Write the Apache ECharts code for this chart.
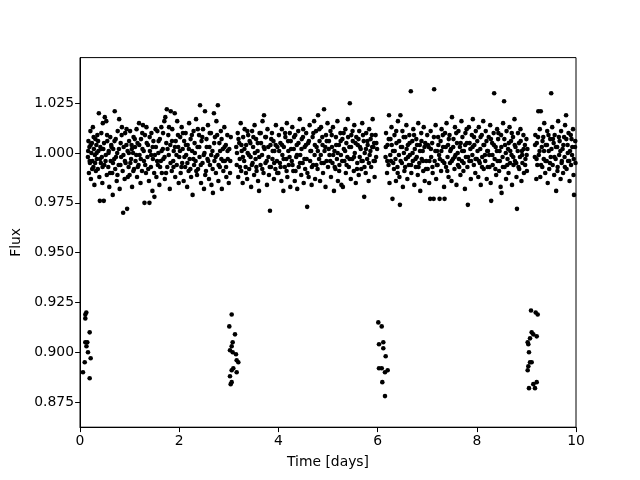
<!DOCTYPE html>
<html><head><meta charset="utf-8">
<script src="https://cdn.jsdelivr.net/npm/echarts@6/dist/echarts.min.js"></script>
<style>html,body{margin:0;padding:0;background:#fff}#c{width:640px;height:480px}</style>
</head><body><div id="c"></div>
<script>
const xTicks = [0, 2, 4, 6, 8, 10];
const yTicks = [0.875, 0.900, 0.925, 0.950, 0.975, 1.000, 1.025];
const xLabel = 'Time [days]';
const yLabel = 'Flux';

const transit1 = [[0.127,0.920],[0.107,0.919],[0.107,0.917],[0.195,0.910],[0.107,0.905],[0.147,0.905],[0.161,0.900],[0.215,0.897],[0.095,0.895],[0.060,0.890],[0.195,0.887],[0.130,0.903]];
const transit2 = [[3.058,0.919],[3.010,0.913],[3.125,0.909],[3.078,0.905],[3.058,0.903],[3.024,0.901],[3.078,0.900],[3.145,0.899],[3.159,0.896],[3.192,0.895],[3.091,0.892],[3.058,0.891],[3.159,0.890],[3.024,0.888],[3.058,0.885],[3.038,0.884]];
const transit3 = [[6.014,0.915],[6.083,0.913],[6.028,0.904],[6.115,0.905],[6.115,0.902],[6.163,0.898],[6.028,0.892],[6.083,0.892],[6.149,0.890],[6.203,0.891],[6.095,0.885],[6.149,0.878]];
const transit4 = [[9.093,0.921],[9.187,0.920],[9.228,0.919],[9.106,0.910],[9.139,0.909],[9.073,0.907],[9.208,0.908],[9.026,0.905],[9.039,0.904],[9.052,0.900],[9.073,0.895],[9.106,0.895],[9.039,0.893],[9.026,0.891],[9.052,0.882],[9.139,0.884],[9.208,0.885],[9.173,0.882]];

const band0 = [[0.16,0.998],[0.17,1.006],[0.18,0.990],[0.19,1.003],[0.20,0.995],[0.21,1.011],[0.22,0.987],[0.23,1.000],[0.24,1.005],[0.25,0.996],[0.26,1.013],[0.27,0.993],[0.28,1.002],[0.29,0.984],[0.30,0.999],[0.31,1.007],[0.32,0.991],[0.33,1.004],[0.34,0.997],[0.35,1.009],[0.36,0.992],[0.37,1.001],[0.38,1.020],[0.39,0.988],[0.40,0.976],[0.41,1.003],[0.42,0.995],[0.43,1.010],[0.44,0.998],[0.45,0.985],[0.46,1.015],[0.47,1.002],[0.48,0.976],[0.49,0.994],[0.50,1.018],[0.52,0.999],[0.53,1.016],[0.54,0.989],[0.55,1.006],[0.57,0.993],[0.58,1.001],[0.59,0.983],[0.61,1.008],[0.62,0.996],[0.63,1.004],[0.65,0.990],[0.66,0.979],[0.67,1.002],[0.69,0.997],[0.70,1.021],[0.71,0.992],[0.72,1.007],[0.74,0.986],[0.75,1.000],[0.76,1.011],[0.78,0.994],[0.79,1.017],[0.80,0.982],[0.82,1.005],[0.83,0.998],[0.84,1.009],[0.86,0.991],[0.87,0.970],[0.88,1.003],[0.90,0.987],[0.91,1.010],[0.92,0.995],[0.94,1.012],[0.95,0.972],[0.96,1.001],[0.98,0.993],[0.99,1.006]];
const band1 = [[1.00,0.989],[1.01,1.011],[1.03,0.997],[1.04,1.004],[1.05,0.983],[1.07,1.000],[1.08,1.008],[1.09,0.992],[1.11,1.003],[1.12,0.996],[1.14,1.012],[1.15,0.988],[1.16,1.005],[1.18,0.994],[1.19,1.015],[1.20,0.999],[1.22,0.985],[1.23,1.007],[1.25,0.991],[1.26,1.002],[1.27,1.014],[1.29,0.996],[1.30,0.975],[1.31,1.009],[1.33,0.990],[1.34,1.013],[1.36,0.998],[1.37,1.004],[1.39,0.986],[1.40,0.975],[1.41,1.001],[1.43,0.993],[1.44,1.010],[1.46,0.981],[1.47,0.997],[1.48,1.006],[1.50,0.978],[1.51,0.999],[1.53,1.003],[1.54,0.988],[1.56,1.011],[1.57,0.994],[1.58,1.000],[1.60,0.984],[1.61,1.007],[1.63,0.996],[1.64,1.013],[1.65,0.990],[1.67,1.002],[1.68,0.997],[1.70,1.016],[1.71,0.987],[1.72,1.018],[1.74,1.005],[1.75,1.022],[1.76,0.993],[1.78,1.009],[1.79,0.999],[1.81,0.982],[1.82,1.004],[1.83,1.021],[1.85,0.991],[1.86,1.012],[1.88,0.996],[1.89,1.001],[1.91,1.020],[1.92,0.988],[1.93,1.006],[1.95,0.994],[1.96,1.016],[1.98,1.003],[1.99,0.985]];
const band2 = [[2.00,0.998],[2.02,1.008],[2.03,0.990],[2.05,1.013],[2.06,0.995],[2.07,1.002],[2.09,0.986],[2.10,1.006],[2.12,0.993],[2.13,1.010],[2.14,0.999],[2.16,0.983],[2.17,1.004],[2.19,0.991],[2.20,1.015],[2.21,0.997],[2.23,1.007],[2.24,0.988],[2.26,1.001],[2.27,0.979],[2.29,1.011],[2.30,0.994],[2.31,1.005],[2.33,0.996],[2.34,1.017],[2.36,0.989],[2.37,1.003],[2.38,0.992],[2.40,1.009],[2.41,0.998],[2.42,1.024],[2.44,0.985],[2.45,1.006],[2.47,0.995],[2.48,1.012],[2.50,0.982],[2.51,1.000],[2.52,1.021],[2.54,0.991],[2.55,1.007],[2.57,0.997],[2.58,1.014],[2.60,0.987],[2.61,1.003],[2.62,0.994],[2.64,1.010],[2.65,0.984],[2.67,1.001],[2.68,0.980],[2.70,1.020],[2.71,0.996],[2.72,1.008],[2.74,0.990],[2.75,1.016],[2.77,0.999],[2.78,1.024],[2.79,0.986],[2.81,1.005],[2.82,0.993],[2.84,1.011],[2.85,0.997],[2.86,0.982],[2.88,1.002],[2.89,0.991],[2.91,1.013],[2.92,0.996],[2.94,1.004],[2.95,0.988],[2.97,1.009],[2.98,0.997],[3.00,0.985],[3.01,1.002],[3.03,0.996],[3.04,1.008]];
const band3 = [[3.15,1.003],[3.16,0.994],[3.18,1.010],[3.19,0.988],[3.21,1.005],[3.22,0.997],[3.24,1.015],[3.25,0.991],[3.26,1.001],[3.28,0.985],[3.29,1.008],[3.31,0.996],[3.32,1.012],[3.34,0.993],[3.35,1.004],[3.37,0.987],[3.38,1.000],[3.39,1.009],[3.41,0.992],[3.42,1.006],[3.44,0.998],[3.45,0.983],[3.47,1.011],[3.48,0.995],[3.49,1.003],[3.51,0.989],[3.52,1.014],[3.54,0.997],[3.55,1.007],[3.56,0.991],[3.58,1.001],[3.59,0.986],[3.61,0.981],[3.62,1.010],[3.64,0.994],[3.65,1.005],[3.67,0.999],[3.68,1.016],[3.70,0.990],[3.71,1.019],[3.72,1.002],[3.74,0.995],[3.75,1.008],[3.77,0.984],[3.78,1.012],[3.80,0.998],[3.81,0.989],[3.83,0.971],[3.84,1.004],[3.85,0.993],[3.87,1.010],[3.88,0.997],[3.90,1.006],[3.91,0.987],[3.92,1.001],[3.94,0.992],[3.95,1.014],[3.97,0.996],[3.98,1.003]];
const band4 = [[4.00,0.990],[4.01,1.009],[4.03,0.995],[4.04,1.005],[4.06,0.986],[4.07,1.012],[4.08,0.999],[4.10,0.981],[4.11,1.003],[4.13,0.993],[4.14,1.008],[4.16,0.997],[4.17,1.015],[4.18,0.988],[4.20,1.001],[4.21,0.994],[4.23,1.010],[4.24,0.983],[4.25,1.006],[4.27,0.996],[4.28,1.013],[4.30,0.991],[4.31,1.002],[4.33,0.986],[4.34,1.009],[4.36,0.998],[4.37,1.004],[4.38,0.982],[4.40,1.011],[4.41,0.993],[4.43,1.017],[4.44,0.999],[4.46,0.989],[4.47,1.007],[4.49,0.995],[4.50,1.012],[4.51,0.985],[4.53,1.003],[4.54,0.992],[4.56,1.010],[4.57,0.997],[4.58,0.973],[4.60,1.005],[4.61,0.988],[4.63,1.014],[4.64,0.996],[4.66,1.001],[4.67,0.984],[4.69,1.008],[4.70,0.994],[4.72,1.016],[4.73,0.999],[4.74,0.987],[4.76,1.011],[4.77,1.003],[4.79,0.992],[4.80,1.019],[4.82,0.997],[4.83,1.006],[4.84,0.986],[4.86,1.013],[4.87,0.995],[4.89,1.004],[4.90,0.990],[4.92,1.022],[4.93,1.001],[4.95,0.983],[4.96,1.009],[4.97,0.996],[4.99,1.015]];
const band5 = [[5.00,0.993],[5.02,1.006],[5.03,0.999],[5.05,1.011],[5.06,0.988],[5.08,1.003],[5.09,0.995],[5.10,1.013],[5.12,0.981],[5.13,1.001],[5.15,0.992],[5.16,1.008],[5.18,0.997],[5.19,1.016],[5.20,0.986],[5.22,1.004],[5.23,0.994],[5.25,1.010],[5.26,0.999],[5.27,0.984],[5.29,1.007],[5.30,0.983],[5.32,1.002],[5.33,0.996],[5.35,1.012],[5.36,0.990],[5.37,1.005],[5.39,0.998],[5.40,1.017],[5.42,0.993],[5.43,1.003],[5.44,1.025],[5.46,0.987],[5.47,1.009],[5.49,0.997],[5.50,1.006],[5.52,0.991],[5.53,1.014],[5.54,1.000],[5.56,0.985],[5.57,1.008],[5.59,0.995],[5.60,1.004],[5.62,0.989],[5.63,1.011],[5.64,0.998],[5.66,1.002],[5.67,0.992],[5.69,1.015],[5.70,0.996],[5.72,1.006],[5.73,0.978],[5.74,1.000],[5.76,0.990],[5.77,1.010],[5.79,0.997],[5.80,1.004],[5.82,0.986],[5.83,1.012],[5.84,0.999],[5.86,1.007],[5.87,0.993],[5.89,1.003],[5.90,1.017],[5.92,0.996],[5.93,1.005],[5.94,0.988],[5.96,1.009],[5.97,0.998],[5.99,1.002]];
const band6 = [[6.16,0.998],[6.17,1.010],[6.19,0.990],[6.20,1.004],[6.22,0.994],[6.23,1.019],[6.24,0.985],[6.26,1.007],[6.27,0.996],[6.28,1.013],[6.30,0.977],[6.31,1.001],[6.33,0.992],[6.34,1.009],[6.36,0.997],[6.37,0.986],[6.38,1.005],[6.40,0.993],[6.41,1.016],[6.43,0.999],[6.44,0.988],[6.45,0.974],[6.46,1.019],[6.47,1.003],[6.49,0.995],[6.50,1.011],[6.51,0.983],[6.53,1.000],[6.54,0.991],[6.56,1.008],[6.57,0.997],[6.58,1.014],[6.60,0.987],[6.61,1.004],[6.63,0.994],[6.64,1.009],[6.65,0.999],[6.67,1.031],[6.68,0.990],[6.70,1.006],[6.71,0.996],[6.72,1.012],[6.74,0.984],[6.75,1.002],[6.77,0.993],[6.78,1.007],[6.79,0.998],[6.81,0.989],[6.82,1.015],[6.84,0.995],[6.85,1.004],[6.86,0.981],[6.88,1.010],[6.89,0.997],[6.91,1.001],[6.92,0.991],[6.93,1.013],[6.95,0.986],[6.96,1.005],[6.98,0.996]];
const band7 = [[7.00,1.009],[7.01,0.992],[7.03,1.003],[7.04,0.985],[7.06,0.977],[7.07,1.011],[7.08,0.998],[7.10,1.005],[7.11,0.990],[7.13,0.977],[7.14,1.032],[7.15,0.996],[7.17,1.014],[7.18,0.987],[7.20,1.001],[7.21,0.994],[7.22,1.008],[7.24,0.999],[7.25,0.977],[7.27,1.006],[7.28,0.991],[7.29,1.012],[7.31,0.996],[7.32,1.003],[7.34,0.983],[7.35,0.977],[7.36,1.010],[7.38,0.993],[7.39,1.015],[7.41,0.998],[7.42,1.004],[7.43,0.988],[7.45,1.009],[7.46,0.995],[7.48,1.002],[7.49,0.986],[7.50,1.018],[7.52,0.997],[7.53,1.007],[7.55,0.992],[7.56,1.013],[7.57,0.999],[7.59,0.984],[7.60,1.005],[7.62,0.994],[7.63,1.011],[7.64,0.997],[7.66,1.003],[7.67,0.989],[7.69,1.016],[7.70,0.996],[7.71,1.008],[7.73,0.991],[7.74,1.001],[7.76,0.982],[7.77,1.010],[7.78,0.998],[7.80,1.005],[7.81,0.993],[7.82,0.974],[7.84,1.013],[7.85,0.996],[7.87,1.002],[7.88,0.987],[7.90,1.009],[7.91,0.999],[7.92,1.017],[7.94,0.994],[7.95,1.004],[7.97,0.990],[7.98,1.011]];
const band8 = [[8.00,0.997],[8.01,1.006],[8.03,0.988],[8.04,1.013],[8.06,0.995],[8.07,1.002],[8.08,0.984],[8.10,1.009],[8.11,0.998],[8.13,1.016],[8.14,0.992],[8.15,1.004],[8.17,0.996],[8.18,1.011],[8.20,0.987],[8.21,1.001],[8.22,0.993],[8.24,1.008],[8.25,0.999],[8.27,1.014],[8.28,0.985],[8.29,0.976],[8.31,1.005],[8.32,0.994],[8.34,1.010],[8.35,1.030],[8.36,0.997],[8.38,1.003],[8.39,0.989],[8.41,1.012],[8.42,0.996],[8.43,1.007],[8.45,0.991],[8.46,1.001],[8.48,0.983],[8.49,1.009],[8.50,0.980],[8.52,0.998],[8.53,1.015],[8.55,1.026],[8.56,0.993],[8.57,1.004],[8.59,0.987],[8.60,1.011],[8.62,0.997],[8.63,1.002],[8.64,0.990],[8.66,1.013],[8.67,0.995],[8.69,1.006],[8.70,0.999],[8.71,0.984],[8.73,1.008],[8.74,0.994],[8.76,1.017],[8.77,0.996],[8.78,1.003],[8.80,0.988],[8.81,0.972],[8.83,1.010],[8.84,0.993],[8.85,1.005],[8.87,0.998],[8.88,1.012],[8.90,0.986],[8.91,1.001],[8.92,0.995],[8.94,1.009],[8.95,0.990],[8.97,1.004],[8.98,0.997],[9.00,1.007],[9.01,0.991],[9.02,1.002]];
const band9 = [[9.17,0.998],[9.18,1.009],[9.20,0.987],[9.21,1.005],[9.22,0.994],[9.24,1.021],[9.25,0.999],[9.27,1.012],[9.28,0.988],[9.29,1.021],[9.31,1.003],[9.32,0.993],[9.34,1.008],[9.35,0.997],[9.36,1.015],[9.38,0.990],[9.39,1.004],[9.41,0.996],[9.42,1.011],[9.43,0.985],[9.45,1.001],[9.46,0.992],[9.48,1.007],[9.49,0.998],[9.50,1.030],[9.52,1.013],[9.53,0.994],[9.55,1.005],[9.56,0.989],[9.57,1.009],[9.59,0.997],[9.60,0.981],[9.62,1.003],[9.63,0.993],[9.64,1.016],[9.66,0.999],[9.67,1.006],[9.69,0.987],[9.70,1.011],[9.71,0.995],[9.73,1.002],[9.74,0.990],[9.76,1.008],[9.77,0.998],[9.78,1.014],[9.80,1.019],[9.81,0.992],[9.83,1.004],[9.84,0.996],[9.85,1.010],[9.87,0.986],[9.88,1.001],[9.90,0.994],[9.91,1.007],[9.92,0.999],[9.94,1.012],[9.95,0.989],[9.96,0.979],[9.98,1.003],[9.99,0.995]];

const extra0 = [[0.165,1.001],[0.195,0.996],[0.215,1.004],[0.245,0.992],[0.275,1.008],[0.305,0.995],[0.335,1.000],[0.365,1.006],[0.405,0.997],[0.425,1.002],[0.455,0.993],[0.485,1.005],[0.515,0.996],[0.545,1.009],[0.575,1.000],[0.605,0.990],[0.635,1.003],[0.665,0.995],[0.695,1.006],[0.725,0.998],[0.755,0.989],[0.785,1.002],[0.815,0.994],[0.845,1.013],[0.875,0.999],[0.905,0.996],[0.935,1.004],[0.965,0.988],[0.985,1.000]];
const extra1 = [[1.015,0.995],[1.045,1.002],[1.075,0.991],[1.105,1.007],[1.135,0.999],[1.165,0.993],[1.195,1.004],[1.225,0.997],[1.255,1.010],[1.285,1.001],[1.315,0.994],[1.345,1.005],[1.375,0.992],[1.405,1.008],[1.435,0.999],[1.465,1.003],[1.495,0.990],[1.525,1.012],[1.555,0.996],[1.585,1.006],[1.615,0.993],[1.645,1.001],[1.675,1.010],[1.705,0.998],[1.735,0.990],[1.765,1.002],[1.795,1.013],[1.825,0.995],[1.855,1.006],[1.885,0.993],[1.915,1.003],[1.945,0.999],[1.975,1.009]];
const extra2 = [[2.015,1.001],[2.045,0.993],[2.075,1.010],[2.105,0.998],[2.135,1.004],[2.165,0.995],[2.195,1.002],[2.225,0.992],[2.255,1.009],[2.285,0.997],[2.315,1.000],[2.345,0.991],[2.375,1.012],[2.405,1.003],[2.435,0.994],[2.465,1.008],[2.495,0.999],[2.525,0.989],[2.555,1.003],[2.585,0.996],[2.615,1.010],[2.645,0.999],[2.675,0.992],[2.705,1.005],[2.735,0.998],[2.765,1.009],[2.795,0.994],[2.825,1.001],[2.855,1.007],[2.885,0.996],[2.915,1.003],[2.945,0.993],[2.975,1.001],[3.025,0.990]];
const extra3 = [[3.165,1.000],[3.195,1.007],[3.225,0.993],[3.255,1.004],[3.285,0.998],[3.315,1.002],[3.345,0.990],[3.375,1.011],[3.405,0.999],[3.435,1.005],[3.465,0.994],[3.495,1.008],[3.525,1.000],[3.555,0.993],[3.585,1.005],[3.615,0.998],[3.645,1.010],[3.675,0.992],[3.705,1.003],[3.735,1.008],[3.765,0.996],[3.795,1.003],[3.825,0.993],[3.855,1.007],[3.885,1.001],[3.915,0.995],[3.945,1.004],[3.975,0.990]];
const extra4 = [[4.015,1.001],[4.045,0.993],[4.075,1.004],[4.105,0.997],[4.135,1.010],[4.165,0.991],[4.195,1.006],[4.225,0.998],[4.255,1.002],[4.285,0.994],[4.315,1.008],[4.345,0.991],[4.375,0.999],[4.405,1.005],[4.435,0.995],[4.465,1.002],[4.495,1.008],[4.525,0.997],[4.555,1.004],[4.585,0.990],[4.615,1.006],[4.645,1.001],[4.675,0.993],[4.705,1.010],[4.735,1.004],[4.765,0.994],[4.795,1.001],[4.825,1.012],[4.855,0.999],[4.885,1.008],[4.915,0.995],[4.945,1.003],[4.975,1.006]];
const extra5 = [[5.015,1.002],[5.045,0.996],[5.075,1.009],[5.105,0.999],[5.135,0.993],[5.165,1.004],[5.195,1.000],[5.225,0.991],[5.255,1.006],[5.285,0.996],[5.315,1.010],[5.345,1.001],[5.375,0.994],[5.405,1.008],[5.435,0.997],[5.465,1.003],[5.495,1.011],[5.525,0.998],[5.555,1.005],[5.585,0.992],[5.615,1.007],[5.645,1.003],[5.675,0.996],[5.705,1.009],[5.735,0.993],[5.765,1.002],[5.795,1.006],[5.825,0.995],[5.855,1.001],[5.885,1.009],[5.915,1.003],[5.945,0.996],[5.975,1.005]];
const extra6 = [[6.165,1.003],[6.195,0.996],[6.225,1.007],[6.255,0.999],[6.285,1.004],[6.315,0.995],[6.345,1.001],[6.375,1.011],[6.405,0.990],[6.435,1.006],[6.465,0.996],[6.495,1.003],[6.525,1.008],[6.555,0.993],[6.585,1.002],[6.615,0.998],[6.645,1.005],[6.675,0.994],[6.705,1.000],[6.735,1.009],[6.765,0.997],[6.795,1.004],[6.825,0.993],[6.855,1.001],[6.885,1.006],[6.915,0.996],[6.945,1.003],[6.975,0.992]];
const extra7 = [[7.015,1.004],[7.045,0.996],[7.075,1.002],[7.105,0.993],[7.135,1.008],[7.165,1.001],[7.195,0.994],[7.225,1.004],[7.255,0.997],[7.285,1.001],[7.315,1.009],[7.345,0.995],[7.375,1.003],[7.405,0.991],[7.435,1.007],[7.465,1.001],[7.495,0.996],[7.525,1.003],[7.555,0.998],[7.585,1.010],[7.615,1.000],[7.645,0.993],[7.675,1.005],[7.705,1.001],[7.735,0.995],[7.765,1.004],[7.795,1.012],[7.825,0.998],[7.855,1.005],[7.885,0.996],[7.915,1.003],[7.945,1.008],[7.975,0.997]];
const extra8 = [[8.015,1.001],[8.045,0.996],[8.075,1.008],[8.105,0.993],[8.135,1.004],[8.165,0.999],[8.195,1.006],[8.225,1.001],[8.255,0.993],[8.285,1.007],[8.315,0.999],[8.345,1.004],[8.375,0.992],[8.405,1.001],[8.435,1.010],[8.465,0.996],[8.495,1.003],[8.525,0.993],[8.555,1.007],[8.585,1.000],[8.615,0.994],[8.645,1.005],[8.675,1.001],[8.705,1.010],[8.735,0.998],[8.765,1.004],[8.795,0.995],[8.825,1.001],[8.855,0.992],[8.885,1.006],[8.915,0.999],[8.945,1.002],[8.975,0.994],[9.005,0.999]];
const extra9 = [[9.175,1.004],[9.205,0.997],[9.235,1.008],[9.265,1.001],[9.295,0.994],[9.325,1.006],[9.355,1.001],[9.385,0.996],[9.415,1.004],[9.445,1.009],[9.475,0.995],[9.505,1.002],[9.535,1.007],[9.565,0.998],[9.595,1.003],[9.625,0.991],[9.655,1.008],[9.685,1.001],[9.715,0.996],[9.745,1.004],[9.775,0.993],[9.805,1.007],[9.835,1.000],[9.865,0.996],[9.895,1.009],[9.925,1.003],[9.955,0.997],[9.985,1.006]];

const allPoints = [].concat(band0, band1, band2, band3, band4, band5, band6, band7, band8, band9,
  extra0, extra1, extra2, extra3, extra4, extra5, extra6, extra7, extra8, extra9,
  transit1, transit2, transit3, transit4);

const chart = echarts.init(document.getElementById('c'), null, {renderer: 'canvas'});
const font = 'DejaVu Sans';
chart.setOption({
  animation: false,
  backgroundColor: '#ffffff',
  grid: {left: 80, right: 64, top: 57.6, bottom: 52.8, show: true, borderColor: '#000', borderWidth: 1, backgroundColor: 'transparent'},
  xAxis: {
    type: 'value', min: 0, max: 10, interval: 2,
    name: xLabel, nameLocation: 'middle', nameGap: 28,
    nameTextStyle: {fontFamily: font, fontSize: 13.9, color: '#000'},
    axisLine: {show: true, onZero: false, lineStyle: {color: '#000', width: 1}},
    axisTick: {show: true, length: 4.9, lineStyle: {color: '#000'}, customValues: xTicks},
    axisLabel: {fontFamily: font, fontSize: 13.9, color: '#000', margin: 7, customValues: xTicks},
    splitLine: {show: false}
  },
  yAxis: {
    type: 'value', min: 0.8624, max: 1.0479,
    name: yLabel, nameLocation: 'middle', nameGap: 55, nameRotate: 90,
    nameTextStyle: {fontFamily: font, fontSize: 13.9, color: '#000'},
    axisLine: {show: true, onZero: false, lineStyle: {color: '#000', width: 1}},
    axisTick: {show: true, length: 4.9, lineStyle: {color: '#000'}, customValues: yTicks},
    axisLabel: {fontFamily: font, fontSize: 13.9, color: '#000', margin: 6, customValues: yTicks,
      formatter: v => v.toFixed(3)},
    splitLine: {show: false}
  },
  series: [{
    type: 'scatter', data: allPoints, symbol: 'circle', symbolSize: 4.6,
    itemStyle: {color: '#000', opacity: 1}, silent: true
  }]
});
</script></body></html>
